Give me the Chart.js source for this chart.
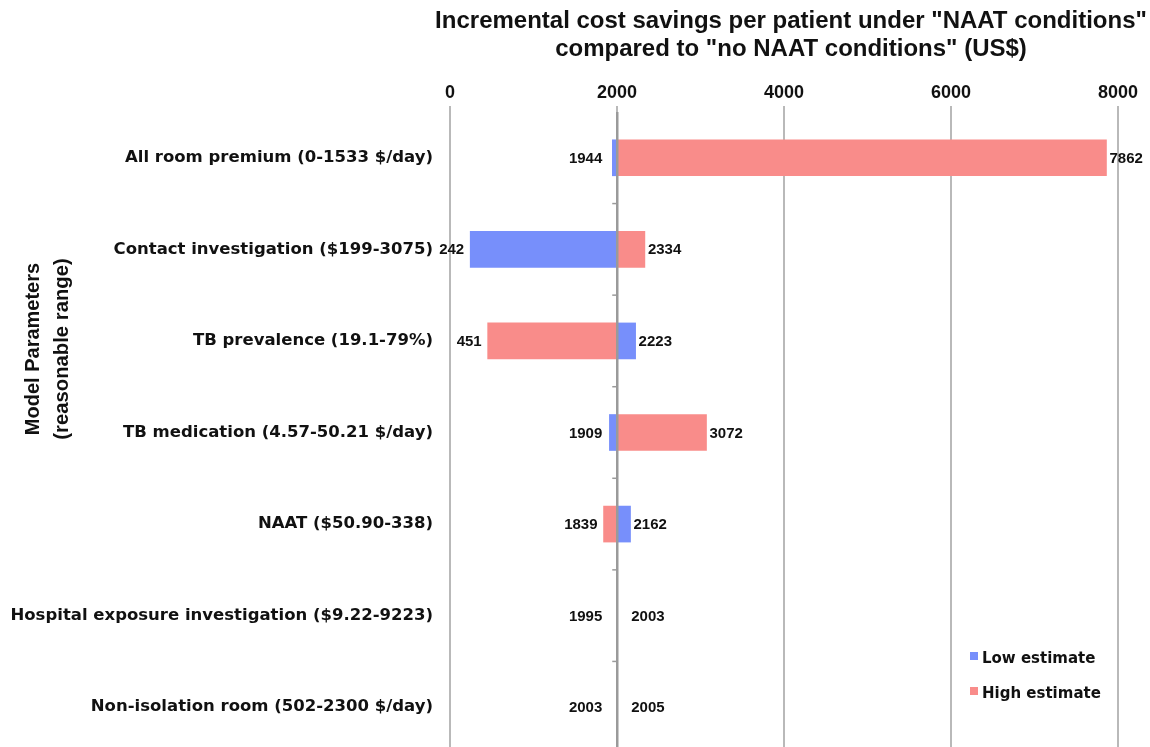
<!DOCTYPE html>
<html>
<head>
<meta charset="utf-8">
<script src="https://cdn.jsdelivr.net/npm/chart.js@4/dist/chart.umd.min.js"></script>
<style>
  html, body { margin: 0; padding: 0; background: #fff; overflow: hidden; }
  #wrap { position: relative; width: 1150px; height: 753px; }
</style>
</head>
<body>
<div id="wrap"><canvas id="tornadoChart" width="1150" height="753"></canvas></div>
<script>
// Datos del gráfico
const categories = [
  "All room premium (0-1533 $/day)",
  "Contact investigation ($199-3075)",
  "TB prevalence (19.1-79%)",
  "TB medication (4.57-50.21 $/day)",
  "NAAT ($50.90-338)",
  "Hospital exposure investigation ($9.22-9223)",
  "Non-isolation room (502-2300 $/day)",
];
const lowEstimate = [1944, 242, 2223, 1909, 2162, 2003, 2003];
const highEstimate = [7862, 2334, 451, 3072, 1839, 1995, 2005];
const baseValue = 2003;
const xTicks = [0, 2000, 4000, 6000, 8000];
const seriesNames = ["Low estimate", "High estimate"];
const titleLines = [
  'Incremental cost savings per patient under "NAAT conditions"',
  'compared to "no NAAT conditions" (US$)',
];
const yTitleLines = ["Model Parameters", "(reasonable range)"];

const blue = "rgb(119, 143, 251)";
const red = "rgb(249, 140, 138)";
const textColor = "#111";
const gridColor = "#b9b9b9";
const sans = "'Liberation Sans', Arial, Helvetica, sans-serif";

// Etiquetas, linea base, leyenda y titulos
const extrasPlugin = {
  id: "extras",
  afterDatasetsDraw(chart) {
    const { ctx, chartArea } = chart;
    const x = chart.scales.x;
    const y = chart.scales.y;
    const basePx = x.getPixelForValue(baseValue);

    ctx.save();
    // linea base
    ctx.strokeStyle = "#9a9a9a";
    ctx.lineWidth = 2.5;
    ctx.beginPath();
    ctx.moveTo(basePx, chartArea.top);
    ctx.lineTo(basePx, chartArea.bottom);
    ctx.stroke();
    // marcas entre categorias
    ctx.lineWidth = 1.5;
    for (let i = 0; i < categories.length - 1; i++) {
      const yy = (y.getPixelForValue(i) + y.getPixelForValue(i + 1)) / 2;
      ctx.beginPath();
      ctx.moveTo(basePx - 5, yy);
      ctx.lineTo(basePx, yy);
      ctx.stroke();
    }

    // valores en los extremos
    ctx.fillStyle = textColor;
    ctx.font = "bold 15px " + sans;
    ctx.textBaseline = "middle";
    categories.forEach((c, i) => {
      const yy = y.getPixelForValue(i) + 1;
      const minV = Math.min(lowEstimate[i], highEstimate[i]);
      const maxV = Math.max(lowEstimate[i], highEstimate[i]);
      ctx.textAlign = "right";
      ctx.fillText(String(minV), Math.min(x.getPixelForValue(minV) - 6, basePx - 15), yy);
      ctx.textAlign = "left";
      ctx.fillText(String(maxV), Math.max(x.getPixelForValue(maxV) + 3, basePx + 14), yy);
    });

    // leyenda
    ctx.font = "bold 15px 'DejaVu Sans', Verdana, sans-serif";
    chart.data.datasets.forEach((ds, i) => {
      const ly = chartArea.bottom - 95 + i * 35;
      ctx.fillStyle = ds.backgroundColor;
      ctx.fillRect(chartArea.right - 148, ly - 6, 8, 8);
      ctx.fillStyle = textColor;
      ctx.textAlign = "left";
      ctx.fillText(ds.label, chartArea.right - 136, ly + 1);
    });

    // titulo principal (encima del eje X)
    ctx.textAlign = "center";
    ctx.font = "bold 24px " + sans;
    titleLines.forEach((line, i) => {
      ctx.fillText(line, (chartArea.left + chartArea.right) / 2 + 7, 21 + i * 28);
    });

    // titulo del eje Y
    ctx.translate(33, 349);
    ctx.rotate(-Math.PI / 2);
    ctx.font = "bold 20px " + sans;
    ctx.fillText(yTitleLines[0], 0, 0);
    ctx.font = "bold 20.3px " + sans;
    ctx.fillText(yTitleLines[1], 0, 29);
    ctx.restore();
  },
};

const ctx = document.getElementById("tornadoChart").getContext("2d");
new Chart(ctx, {
  type: "bar",
  data: {
    labels: categories,
    datasets: [
      {
        label: seriesNames[0],
        data: lowEstimate.map((v) => [v, baseValue]),
        backgroundColor: blue,
        grouped: false,
        barThickness: 36,
      },
      {
        label: seriesNames[1],
        data: highEstimate.map((v) => [baseValue, v]),
        backgroundColor: red,
        grouped: false,
        barThickness: 36,
      },
    ],
  },
  options: {
    indexAxis: "y",
    responsive: false,
    animation: false,
    devicePixelRatio: 1,
    layout: { padding: { left: 0, right: 32, top: 0, bottom: 0 } },
    plugins: {
      legend: { display: false },
      tooltip: { enabled: false },
    },
    scales: {
      x: {
        position: "top",
        min: 0,
        max: 8000,
        afterBuildTicks: (scale) => {
          scale.ticks = xTicks.map((v) => ({ value: v }));
        },
        afterFit: (scale) => {
          scale.height = 112;
        },
        grid: {
          color: gridColor,
          lineWidth: 2,
          tickLength: 6,
        },
        border: { display: false },
        ticks: {
          color: textColor,
          padding: 2,
          callback: (v) => String(v),
          font: { family: sans, size: 18, weight: "bold" },
        },
      },
      y: {
        afterFit: (scale) => {
          scale.width = 450;
          scale.paddingTop = 0;
          scale.paddingBottom = 0;
        },
        grid: { display: false, drawTicks: false },
        border: { display: false },
        ticks: {
          color: textColor,
          padding: 17,
          font: { family: "'DejaVu Sans', Verdana, sans-serif", size: 16.5, weight: "bold" },
        },
      },
    },
  },
  plugins: [extrasPlugin],
});
</script>
</body>
</html>
